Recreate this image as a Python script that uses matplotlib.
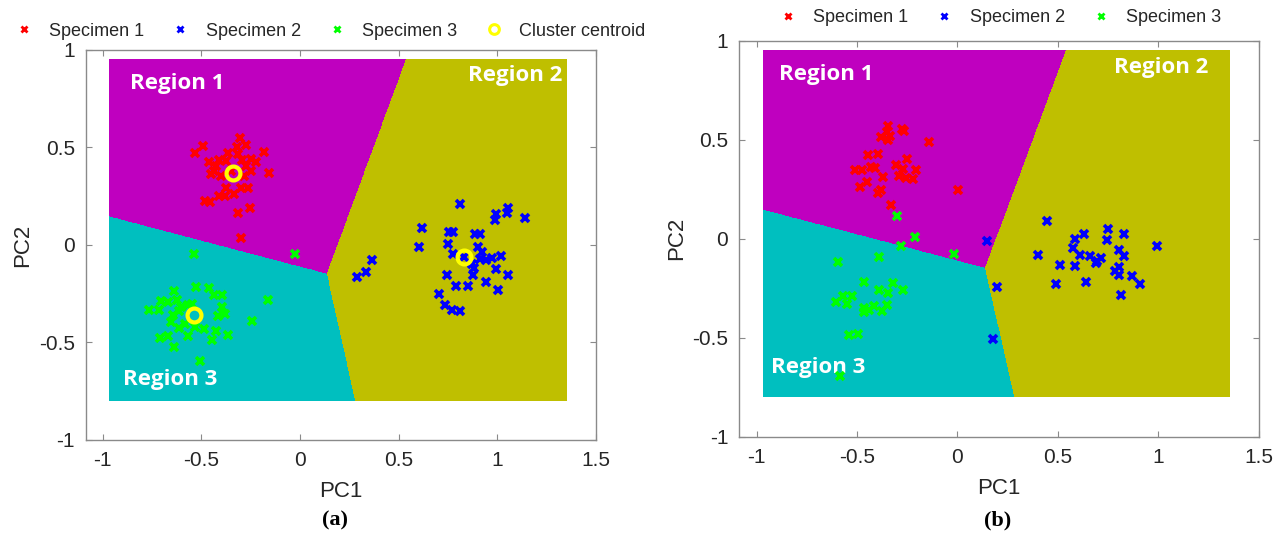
import numpy as np
import matplotlib
matplotlib.use("Agg")
from matplotlib import pyplot as plt
from matplotlib.colors import ListedColormap
from matplotlib.lines import Line2D

plt.rcParams['font.family'] = ['Liberation Sans', 'DejaVu Sans']

# region colours (old matlab c/m/y), marker colours
region_colors = ['#bf00bf', '#bfbf00', '#00bfbf']   # region 1, 2, 3
spec_colors = ['#ff0000', '#0000ff', '#00ff00']
centroid_color = '#ffff00'

# cluster centroids (PC1, PC2) - also define the regions in both panels
centroid_x = [-0.342, 0.830, -0.536]
centroid_y = [0.368, -0.060, -0.361]

# area covered by the coloured regions
region_xlim = [-0.97, 1.35]
region_ylim = [-0.80, 0.95]
region_names = ['Region 1', 'Region 2', 'Region 3']

# ---- panel (a) ----
a_spec1_x = [-0.304, -0.275, -0.322, -0.494, -0.533, -0.181, -0.363, -0.315, -0.461, -0.413,
             -0.376, -0.292, -0.250, -0.224, -0.427, -0.435, -0.275, -0.250, -0.452, -0.157,
             -0.401, -0.283, -0.376, -0.300, -0.263, -0.334, -0.410, -0.380, -0.481, -0.455,
             -0.317, -0.255, -0.299, -0.350]
a_spec1_y = [0.548, 0.514, 0.505, 0.507, 0.471, 0.476, 0.471, 0.467, 0.428, 0.436,
             0.433, 0.436, 0.441, 0.424, 0.407, 0.381, 0.407, 0.381, 0.364, 0.368,
             0.356, 0.356, 0.292, 0.292, 0.290, 0.261, 0.249, 0.253, 0.227, 0.218,
             0.163, 0.189, 0.038, 0.380]

a_spec2_x = [0.810, 1.053, 0.994, 1.049, 0.990, 1.139, 0.619, 0.754, 0.776, 0.889,
             0.911, 0.751, 0.602, 0.902, 0.774, 0.923, 0.973, 1.016, 0.940, 0.914,
             0.869, 0.881, 0.366, 0.332, 0.290, 0.746, 0.876, 0.994, 1.053, 0.791,
             0.852, 0.940, 1.004, 0.703, 0.734, 0.771, 0.813, 0.830]
a_spec2_y = [0.210, 0.192, 0.158, 0.163, 0.127, 0.136, 0.086, 0.064, 0.069, 0.058,
             0.055, 0.004, -0.009, -0.010, -0.045, -0.036, -0.065, -0.058, -0.077, -0.071,
             -0.096, -0.117, -0.077, -0.139, -0.165, -0.155, -0.156, -0.125, -0.155, -0.211,
             -0.208, -0.191, -0.232, -0.251, -0.306, -0.332, -0.340, -0.060]

a_spec3_x = [-0.536, -0.027, -0.528, -0.461, -0.638, -0.435, -0.396, -0.626, -0.705, -0.671,
             -0.165, -0.548, -0.570, -0.604, -0.764, -0.717, -0.396, -0.646, -0.612, -0.418,
             -0.380, -0.246, -0.654, -0.612, -0.582, -0.533, -0.489, -0.427, -0.363, -0.444,
             -0.570, -0.710, -0.668, -0.638, -0.508]
a_spec3_y = [-0.048, -0.045, -0.216, -0.223, -0.234, -0.258, -0.254, -0.280, -0.289, -0.294,
             -0.284, -0.302, -0.306, -0.320, -0.332, -0.332, -0.320, -0.357, -0.340, -0.366,
             -0.354, -0.388, -0.395, -0.426, -0.405, -0.423, -0.431, -0.443, -0.460, -0.486,
             -0.465, -0.478, -0.469, -0.524, -0.594]

# ---- panel (b) ----
b_spec1_x = [-0.345, -0.350, -0.275, -0.267, -0.380, -0.337, -0.345, -0.143, -0.444, -0.395,
             -0.250, -0.305, -0.270, -0.204, -0.511, -0.474, -0.428, -0.411, -0.372, -0.289,
             -0.255, -0.220, -0.449, -0.486, -0.395, -0.383, 0.003, -0.333]
b_spec1_y = [0.569, 0.539, 0.552, 0.544, 0.514, 0.519, 0.497, 0.488, 0.421, 0.429,
             0.404, 0.370, 0.350, 0.348, 0.345, 0.345, 0.362, 0.359, 0.312, 0.317,
             0.308, 0.303, 0.286, 0.261, 0.231, 0.244, 0.247, 0.172]

b_spec2_x = [0.148, 0.198, 0.176, 0.446, 0.587, 0.628, 0.748, 0.745, 0.827, 0.993,
             0.400, 0.575, 0.609, 0.657, 0.692, 0.715, 0.803, 0.831, 0.512, 0.587,
             0.687, 0.803, 0.786, 0.803, 0.869, 0.907, 0.488, 0.638, 0.816]
b_spec2_y = [-0.010, -0.243, -0.506, 0.091, 0.000, 0.024, 0.049, -0.005, 0.024, -0.039,
             -0.081, -0.047, -0.081, -0.086, -0.114, -0.097, -0.055, -0.086, -0.131, -0.136,
             -0.123, -0.145, -0.165, -0.186, -0.190, -0.228, -0.228, -0.218, -0.282]

b_spec3_x = [-0.300, -0.210, -0.282, -0.018, -0.390, -0.595, -0.466, -0.320, -0.391, -0.347,
             -0.272, -0.569, -0.524, -0.549, -0.603, -0.466, -0.466, -0.413, -0.375, -0.353,
             -0.441, -0.541, -0.496, -0.586]
b_spec3_y = [0.114, 0.008, -0.039, -0.079, -0.092, -0.118, -0.218, -0.223, -0.260, -0.274,
             -0.257, -0.291, -0.291, -0.328, -0.321, -0.349, -0.371, -0.341, -0.363, -0.333,
             -0.361, -0.484, -0.480, -0.694]

legend_labels = ['Specimen 1', 'Specimen 2', 'Specimen 3', 'Cluster centroid']


def draw_regions(ax):
    # colour each cell by its nearest centroid
    gx = np.linspace(region_xlim[0], region_xlim[1], 1400)
    gy = np.linspace(region_ylim[0], region_ylim[1], 1100)
    X, Y = np.meshgrid(gx, gy)
    d = [(X - cx) ** 2 + (Y - cy) ** 2 for cx, cy in zip(centroid_x, centroid_y)]
    lab = np.argmin(np.array(d), axis=0)
    ax.imshow(lab, origin='lower', cmap=ListedColormap(region_colors), vmin=-0.5, vmax=2.5,
              extent=[region_xlim[0], region_xlim[1], region_ylim[0], region_ylim[1]],
              interpolation='nearest', aspect='auto', zorder=0)


def style_axes(ax):
    ax.set_xlim(-1.085, 1.5)
    ax.set_ylim(-1, 1)
    ax.set_xticks([-1, -0.5, 0, 0.5, 1, 1.5])
    ax.set_xticklabels(['-1', '-0.5', '0', '0.5', '1', '1.5'])
    ax.set_yticks([-1, -0.5, 0, 0.5, 1])
    ax.set_yticklabels(['-1', '-0.5', '0', '0.5', '1'])
    ax.tick_params(direction='in', top=True, right=True, length=4, width=0.8,
                   labelsize=15, colors='#8a8a8a', labelcolor='#262626', pad=8)
    for s in ax.spines.values():
        s.set_color('#8a8a8a')
        s.set_linewidth(1.0)
    ax.set_xlabel('PC1', fontsize=16, color='#262626', labelpad=8)
    ax.set_ylabel('PC2', fontsize=16, color='#262626', labelpad=4)


def region_text(ax, pos):
    for name, (tx, ty, ha) in zip(region_names, pos):
        ax.text(tx, ty, name, color='white', fontsize=16, fontweight='bold',
                family='Open Sans', ha=ha, va='center', zorder=1)


def scatter(ax, xs, ys, c):
    ax.plot(xs, ys, ls='none', marker='x', ms=6, mew=2.6, color=c, zorder=2)


def legend_handles(n):
    h = [Line2D([], [], ls='none', marker='x', ms=4.5, mew=2, color=c) for c in spec_colors]
    h.append(Line2D([], [], ls='none', marker='o', ms=7, mew=2.2, mfc='none', mec=centroid_color))
    return h[:n]


fig = plt.figure(figsize=(12.82, 5.45), dpi=100)
ax_a = fig.add_axes([0.0671, 0.1927, 0.3978, 0.7156])
ax_b = fig.add_axes([0.5768, 0.1987, 0.4052, 0.7268])

# panel (a)
draw_regions(ax_a)
scatter(ax_a, a_spec1_x, a_spec1_y, spec_colors[0])
scatter(ax_a, a_spec2_x, a_spec2_y, spec_colors[1])
scatter(ax_a, a_spec3_x, a_spec3_y, spec_colors[2])
ax_a.plot(centroid_x, centroid_y, ls='none', marker='o', ms=10, mew=3, mfc='none',
          mec=centroid_color, zorder=3)
style_axes(ax_a)
region_text(ax_a, [(-0.86, 0.83, 'left'), (1.33, 0.87, 'right'), (-0.90, -0.69, 'left')])

# panel (b)
draw_regions(ax_b)
scatter(ax_b, b_spec1_x, b_spec1_y, spec_colors[0])
scatter(ax_b, b_spec2_x, b_spec2_y, spec_colors[1])
scatter(ax_b, b_spec3_x, b_spec3_y, spec_colors[2])
style_axes(ax_b)
region_text(ax_b, [(-0.89, 0.827, 'left'), (1.25, 0.862, 'right'), (-0.93, -0.65, 'left')])

leg_kw = dict(loc='center', frameon=False, fontsize=13, handlelength=1.0, handletextpad=0.9,
              columnspacing=1.5, labelcolor='#262626')
fig.legend(legend_handles(4), legend_labels, ncol=4, bbox_to_anchor=(0.2574, 0.943), **leg_kw)
fig.legend(legend_handles(3), legend_labels[:3], ncol=3, bbox_to_anchor=(0.780, 0.967), **leg_kw)

fig.text(0.2613, 0.045, '(a)', family='Liberation Serif', fontweight='bold', fontsize=16,
         ha='center', va='center')
fig.text(0.7780, 0.045, '(b)', family='Liberation Serif', fontweight='bold', fontsize=16,
         ha='center', va='center')

fig.savefig('out.png', dpi=100)
